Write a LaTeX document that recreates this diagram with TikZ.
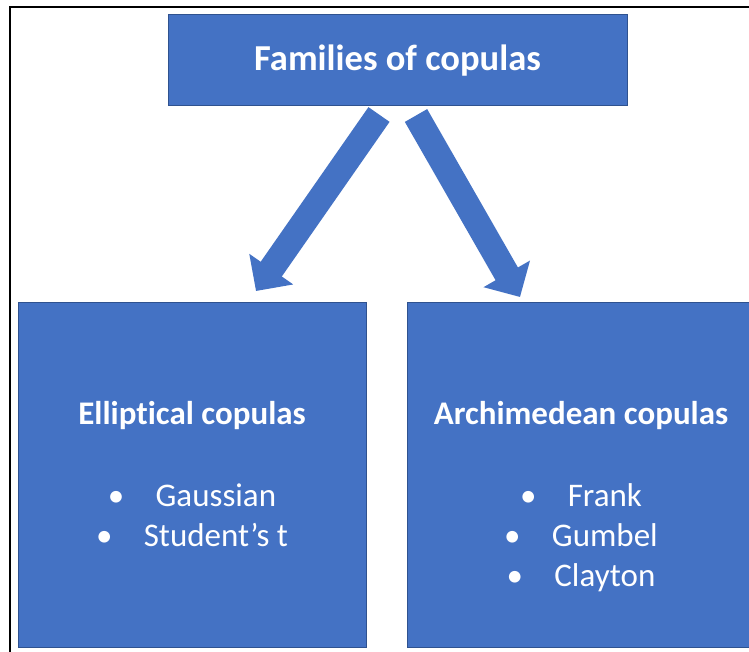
\documentclass[tikz,border=0pt]{standalone}
\usepackage{fontspec}
\setmainfont{Carlito}[Ligatures=NoCommon]
\usetikzlibrary{arrows.meta,positioning}
\definecolor{copblue}{HTML}{4472C4}
\definecolor{copedge}{HTML}{2F528F}
\tikzstyle{familia} = [draw=copedge, fill=copblue, line width=0.6pt, rectangle, inner sep=0pt, text=white]
\tikzstyle{fancytitle} = [text=white, font=\fontsize{27.4pt}{32pt}\selectfont\bfseries]
\tikzstyle{listado} = [text=white, align=center, inner sep=0pt, font=\fontsize{24.75pt}{30pt}\selectfont]
\tikzstyle{fancyarrow} = [draw=copblue, line width=19.3pt, -{Triangle[length=20pt, width=39pt]}]
\newcommand{\punto}{\textbullet\hspace{0.95em}}

\begin{document}
\begin{tikzpicture}[x=0.75pt, y=-0.75pt]
	\useasboundingbox (0,0) rectangle (749,652);
	\clip (0,0) rectangle (749,652);
	\fill[white] (0,0) rectangle (749,652);
	\draw[line width=1.5pt] (9.5,660) |- (760,7);
	\node[familia, minimum width=344.25pt, minimum height=68.25pt](fam) at (397.5,59.5) {};
	\node[fancytitle, yshift=-1pt] at (fam.center) {Families of copulas};
	\node[familia, minimum width=261pt, minimum height=258.75pt](ellip) at (192,474.5) {};
	\node[familia, minimum width=261pt, minimum height=258.75pt](archi) at (581,474.5) {};
	\node[listado, below=74.25pt] (ellipitems) at (ellip.north) {\textbf{Elliptical copulas}\\[31.5pt]
		\punto Gaussian\\
		\punto Student’s t};
	\node[listado, below=74.25pt] (archiitems) at (archi.north) {\textbf{Archimedean copulas}\\[31.5pt]
		\punto Frank\\
		\punto Gumbel\\
		\punto Clayton};
	\coordinate (ltail) at (379,114.5);
	\coordinate (ltip) at (256,291);
	\coordinate (rtail) at (416,115.5);
	\coordinate (rtip) at (520,297);
	\draw[fancyarrow] (ltail) -- (ltip);
	\draw[fancyarrow] (rtail) -- (rtip);
\end{tikzpicture}
\end{document}
